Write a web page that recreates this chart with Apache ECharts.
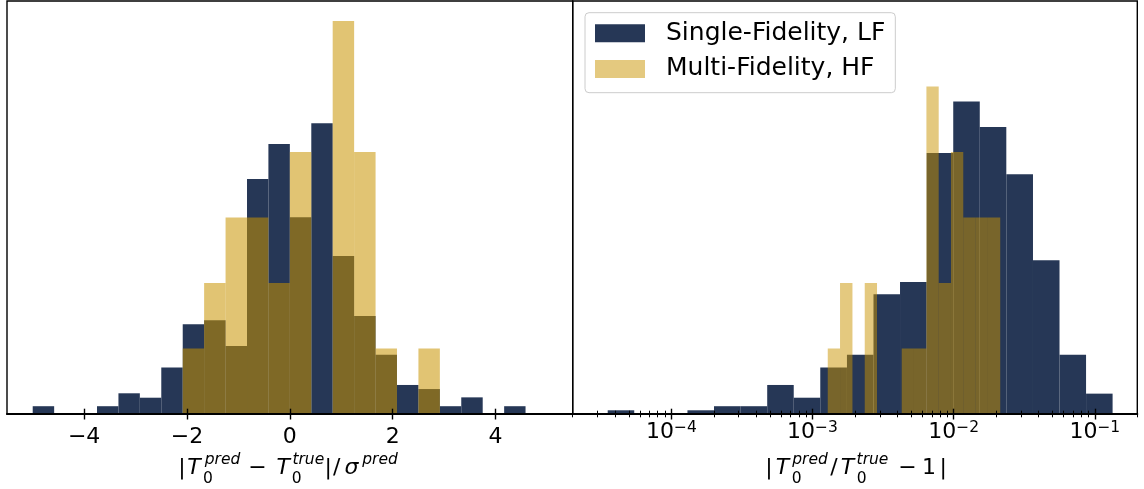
<!DOCTYPE html>
<html>
<head>
<meta charset="utf-8">
<script src="https://cdn.jsdelivr.net/npm/echarts@6/dist/echarts.min.js"></script>
<style>
  html, body { margin: 0; padding: 0; background: #ffffff; }
  #chart { width: 1144px; height: 489px; }
</style>
</head>
<body>
<div id="chart"></div>
<script>
// Left panel: pull distribution (T_pred - T_true) / sigma_pred, common bin edges
const pullEdges = [-5.000, -4.583, -4.167, -3.750, -3.333, -2.917, -2.500, -2.083,
  -1.667, -1.250, -0.833, -0.417, 0.000, 0.417, 0.833, 1.250, 1.667, 2.083,
  2.500, 2.917, 3.333, 3.750, 4.167, 4.583];
// fraction of samples per bin
const pullSingleLF = [0.0044, 0, 0, 0.0044, 0.0117, 0.0092, 0.0262, 0.0507, 0.0530,
  0.0384, 0.1328, 0.1525, 0.1112, 0.1643, 0.0893, 0.0554, 0.0334, 0.0164, 0.0141,
  0.0044, 0.0094, 0, 0.0044];
const pullMultiHF = [0, 0, 0, 0, 0, 0, 0, 0.037, 0.074, 0.111, 0.111, 0.074, 0.148,
  0, 0.222, 0.148, 0.037, 0, 0.037, 0, 0, 0, 0];

// Right panel: relative error |T_pred / T_true - 1|, bin edges given as log10
const relLogEdgesSingleLF = [-4.451, -4.263, -4.074, -3.886, -3.698, -3.509, -3.321,
  -3.133, -2.945, -2.756, -2.568, -2.380, -2.191, -2.003, -1.815, -1.627, -1.438,
  -1.250, -1.062, -0.874];
const relSingleLF = [0.0021, 0, 0, 0.0021, 0.0044, 0.0044, 0.0164, 0.0092, 0.0262,
  0.0334, 0.0677, 0.0746, 0.1474, 0.1765, 0.1621, 0.1355, 0.0869, 0.0334, 0.0115];
const relLogEdgesMultiHF = [-2.892, -2.805, -2.717, -2.630, -2.543, -2.455, -2.368,
  -2.281, -2.193, -2.106, -2.019, -1.932, -1.844, -1.757, -1.670];
const relMultiHF = [0.037, 0.074, 0, 0.074, 0, 0, 0.037, 0.037, 0.185, 0.074, 0.148,
  0.111, 0.111, 0.111];

// axis ticks
const pullTicks = [-4, -2, 0, 2, 4];
const relMajorTicks = [1e-4, 1e-3, 1e-2, 1e-1];
const relMinorTicks = [2e-5, 3e-5, 4e-5, 5e-5, 6e-5, 7e-5, 8e-5, 9e-5,
  2e-4, 3e-4, 4e-4, 5e-4, 6e-4, 7e-4, 8e-4, 9e-4,
  2e-3, 3e-3, 4e-3, 5e-3, 6e-3, 7e-3, 8e-3, 9e-3,
  2e-2, 3e-2, 4e-2, 5e-2, 6e-2, 7e-2, 8e-2, 9e-2, 2e-1];

const NAME_LF = 'Single-Fidelity, LF';
const NAME_HF = 'Multi-Fidelity, HF';
const NAVY = 'rgb(38,55,86)';
const GOLD_RGB = '201,147,0';
const FONT = 'DejaVu Sans';
const Y_MAX = 0.2333;

function binRows(edges, values, fromLog) {
  const rows = [];
  for (let i = 0; i < values.length; i++) {
    const lo = fromLog ? Math.pow(10, edges[i]) : edges[i];
    const hi = fromLog ? Math.pow(10, edges[i + 1]) : edges[i + 1];
    rows.push([lo, hi, values[i]]);
  }
  return rows;
}

function histSeries(name, rows, axisIdx, fill) {
  return {
    type: 'custom',
    name: name,
    xAxisIndex: axisIdx.x,
    yAxisIndex: axisIdx.y,
    data: rows,
    encode: { x: [0, 1], y: 2 },
    itemStyle: { color: fill },
    silent: true,
    renderItem: function (params, api) {
      const h = api.value(2);
      if (!(h > 0)) return null;
      const topLeft = api.coord([api.value(0), h]);
      const bottomRight = api.coord([api.value(1), 0]);
      return {
        type: 'rect',
        shape: {
          x: topLeft[0], y: topLeft[1],
          width: bottomRight[0] - topLeft[0],
          height: bottomRight[1] - topLeft[1]
        },
        style: { fill: fill }
      };
    }
  };
}

function minusSign(v) {
  return v < 0 ? '\u2212' + (-v) : String(v);
}

const tickLine = { color: '#000', width: 1.4 };
const minorLine = { color: '#000', width: 1 };

function tickAxis(gridIndex, base, values, inside, length, lineStyle) {
  return Object.assign({}, base, {
    gridIndex: gridIndex,
    position: 'bottom',
    offset: 0,
    z: 10,
    axisLine: { show: false },
    splitLine: { show: false },
    axisLabel: { show: false },
    axisTick: { show: true, customValues: values, inside: inside, length: length, lineStyle: lineStyle }
  });
}

const pullBase = { type: 'value', min: -5.5, max: 5.5 };
const relBase = { type: 'log', logBase: 10, min: 2e-5, max: 0.2 };

// math-style axis titles laid out piece by piece
function mathPieces(pieces) {
  return pieces.map(function (p) {
    const size = p.k === 'main' ? 22 : 15.5;
    const base = p.k === 'main' ? 475.7 : (p.k === 'sup' ? 465 : 484.3);
    return {
      type: 'text',
      silent: true,
      style: {
        text: p.t,
        x: p.x,
        y: base - 0.35 * size,
        align: 'center',
        verticalAlign: 'middle',
        font: (p.i ? 'italic ' : '') + size + 'px "' + FONT + '"',
        fill: '#000'
      }
    };
  });
}

const pullTitle = mathPieces([
  { t: '|', x: 182, k: 'main' },
  { t: 'T', x: 194, k: 'main', i: true },
  { t: 'pred', x: 222.5, k: 'sup', i: true },
  { t: '0', x: 208, k: 'sub' },
  { t: '\u2212', x: 257.5, k: 'main' },
  { t: 'T', x: 283.3, k: 'main', i: true },
  { t: 'true', x: 308.3, k: 'sup', i: true },
  { t: '0', x: 296.7, k: 'sub' },
  { t: '|', x: 328.3, k: 'main' },
  { t: '/', x: 336.7, k: 'main' },
  { t: '\u03c3', x: 351.5, k: 'main', i: true },
  { t: 'pred', x: 380, k: 'sup', i: true }
]);

const relTitle = mathPieces([
  { t: '|', x: 769, k: 'main' },
  { t: 'T', x: 782.5, k: 'main', i: true },
  { t: 'pred', x: 810, k: 'sup', i: true },
  { t: '0', x: 796.7, k: 'sub' },
  { t: '/', x: 834, k: 'main' },
  { t: 'T', x: 847.5, k: 'main', i: true },
  { t: 'true', x: 872.5, k: 'sup', i: true },
  { t: '0', x: 861.7, k: 'sub' },
  { t: '\u2212', x: 907.5, k: 'main' },
  { t: '1', x: 929, k: 'main' },
  { t: '|', x: 943.3, k: 'main' }
]);

const option = {
  animation: false,
  backgroundColor: '#ffffff',
  grid: [
    { left: 7, top: 1, width: 565.7, height: 413, show: true, borderColor: '#000', borderWidth: 1.4, backgroundColor: 'transparent' },
    { left: 572.7, top: 1, width: 564.6, height: 413, show: true, borderColor: '#000', borderWidth: 1.4, backgroundColor: 'transparent' }
  ],
  legend: {
    orient: 'vertical',
    left: 585,
    top: 12.7,
    padding: [8, 10, 11.3, 10],
    itemWidth: 50,
    itemHeight: 18,
    itemGap: 10.7,
    selectedMode: false,
    backgroundColor: 'rgba(255,255,255,0.8)',
    borderColor: '#cccccc',
    borderWidth: 1,
    borderRadius: 4,
    textStyle: { fontSize: 25, fontFamily: FONT, color: '#000', padding: [0, 0, 0, 16] },
    data: [
      { name: NAME_LF, icon: 'rect', itemStyle: { color: NAVY } },
      { name: NAME_HF, icon: 'rect', itemStyle: { color: 'rgba(' + GOLD_RGB + ',0.5)' } }
    ]
  },
  xAxis: [
    Object.assign({}, pullBase, {
      gridIndex: 0, position: 'bottom', z: 10,
      axisLine: { show: true, onZero: false, lineStyle: { color: '#000', width: 2 } },
      axisTick: { show: true, customValues: pullTicks, inside: false, length: 5.5, lineStyle: tickLine },
      axisLabel: { customValues: pullTicks, formatter: minusSign, fontSize: 22, fontFamily: FONT, color: '#000', margin: 12 },
      splitLine: { show: false }
    }),
    tickAxis(0, pullBase, pullTicks, true, 5.3, tickLine),
    Object.assign({}, relBase, {
      gridIndex: 1, position: 'bottom', z: 10,
      axisLine: { show: true, onZero: false, lineStyle: { color: '#000', width: 2 } },
      axisTick: { show: true, customValues: relMajorTicks, inside: false, length: 5.5, lineStyle: tickLine },
      axisLabel: {
        customValues: relMajorTicks,
        formatter: function (v) { return '{m|10}{e|\u2212' + (-Math.round(Math.log10(v))) + '}'; },
        margin: 6,
        rich: {
          m: { fontSize: 22, fontFamily: FONT, color: '#000', lineHeight: 24.5 },
          e: { fontSize: 15.5, fontFamily: FONT, color: '#000', verticalAlign: 'top', lineHeight: 15.5 }
        }
      },
      splitLine: { show: false },
      minorTick: { show: false }
    }),
    tickAxis(1, relBase, relMajorTicks, true, 5.3, tickLine),
    tickAxis(1, relBase, relMinorTicks, false, 3.3, minorLine),
    tickAxis(1, relBase, relMinorTicks, true, 3.3, minorLine)
  ],
  yAxis: [
    { gridIndex: 0, type: 'value', min: 0, max: Y_MAX, show: false },
    { gridIndex: 1, type: 'value', min: 0, max: Y_MAX, show: false }
  ],
  series: [
    histSeries(NAME_LF, binRows(pullEdges, pullSingleLF, false), { x: 0, y: 0 }, NAVY),
    histSeries(NAME_HF, binRows(pullEdges, pullMultiHF, false), { x: 0, y: 0 }, 'rgba(' + GOLD_RGB + ',0.55)'),
    histSeries(NAME_LF, binRows(relLogEdgesSingleLF, relSingleLF, true), { x: 2, y: 1 }, NAVY),
    histSeries(NAME_HF, binRows(relLogEdgesMultiHF, relMultiHF, true), { x: 2, y: 1 }, 'rgba(' + GOLD_RGB + ',0.5)')
  ],
  graphic: pullTitle.concat(relTitle)
};

const chart = echarts.init(document.getElementById('chart'), null, { renderer: 'canvas' });
chart.setOption(option);
</script>
</body>
</html>
